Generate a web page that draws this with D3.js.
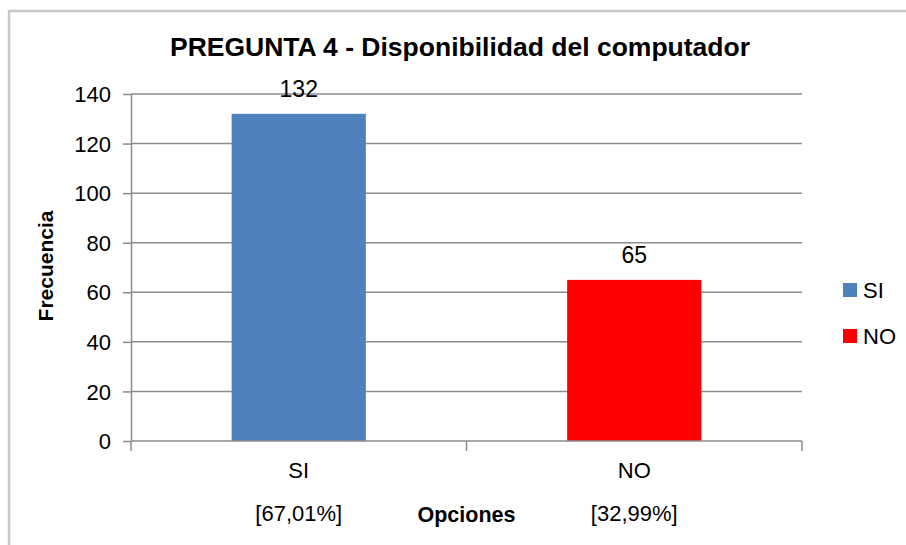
<!DOCTYPE html>
<html lang="es">
<head>
<meta charset="UTF-8"/>
<title>PREGUNTA 4 - Disponibilidad del computador</title>
<script src="https://d3js.org/d3.v7.min.js"></script>
<style>
    body { margin: 0; background: #fff; }
    text { font-family: "Liberation Sans", Arial, sans-serif; fill: #000; }
    .grid line { stroke: #8c8c8c; stroke-width: 1.5px; }
    .axis path, .axis line { stroke: #8c8c8c; stroke-width: 1.5px; fill: none; }
</style>
</head>
<body>
<svg width="906" height="545"></svg>
<script>
    // datos
    const categorias = ["SI", "NO"];
    const porcentajes = ["[67,01%]", "[32,99%]"];
    const frecuencias = [132, 65];
    const colores = ["#4f81bd", "#ff0000"];
    const ticksY = [0, 20, 40, 60, 80, 100, 120, 140];

    const svg = d3.select("svg");

    // marco
    svg.append("path")
        .attr("d", "M9,545V11H906")
        .attr("fill", "none")
        .attr("stroke", "#c8c8c8")
        .attr("stroke-width", 2.5);

    const margin = {left: 131, right: 802, top: 94, bottom: 441};

    const x = d3.scaleBand()
        .domain(categorias)
        .range([margin.left, margin.right])
        .paddingInner(0)
        .paddingOuter(0);

    const y = d3.scaleLinear()
        .domain([0, 140])
        .range([margin.bottom, margin.top]);

    // lineas de cuadricula
    svg.append("g").attr("class", "grid")
        .selectAll("line")
        .data(ticksY.filter(d => d > 0))
        .enter().append("line")
        .attr("x1", margin.left).attr("x2", margin.right)
        .attr("y1", d => y(d)).attr("y2", d => y(d));

    // barras
    const bw = x.bandwidth() * 0.4;
    svg.selectAll(".bar")
        .data(frecuencias)
        .enter().append("rect")
        .attr("class", "bar")
        .attr("x", (d, i) => x(categorias[i]) + (x.bandwidth() - bw) / 2)
        .attr("width", bw)
        .attr("y", d => y(d))
        .attr("height", d => y(0) - y(d))
        .attr("fill", (d, i) => colores[i]);

    // etiquetas de valores
    svg.selectAll(".val")
        .data(frecuencias)
        .enter().append("text")
        .attr("x", (d, i) => x(categorias[i]) + x.bandwidth() / 2)
        .attr("y", d => y(d) - 17)
        .attr("text-anchor", "middle")
        .attr("font-size", 23)
        .text(d => d);

    // eje Y
    const yAxis = svg.append("g").attr("class", "axis")
        .attr("transform", "translate(" + margin.left + ",0)")
        .call(d3.axisLeft(y).tickValues(ticksY).tickSize(8).tickSizeOuter(0));
    yAxis.selectAll("text")
        .attr("font-size", 22)
        .attr("x", -20)
        .attr("dy", "0.35em")
        .style("font-family", "Liberation Sans, Arial, sans-serif")
        .attr("fill", "#000");

    // eje X
    const xAxis = svg.append("g").attr("class", "axis")
        .attr("transform", "translate(0," + margin.bottom + ")");
    xAxis.append("line")
        .attr("x1", margin.left).attr("x2", margin.right);
    xAxis.selectAll(".tk")
        .data([margin.left].concat(categorias.map(c => x(c) + x.bandwidth())))
        .enter().append("line")
        .attr("x1", d => d).attr("x2", d => d)
        .attr("y1", 0).attr("y2", 10);

    svg.selectAll(".cat")
        .data(categorias)
        .enter().append("text")
        .attr("x", d => x(d) + x.bandwidth() / 2)
        .attr("y", 478)
        .attr("text-anchor", "middle")
        .attr("font-size", 22)
        .text(d => d);

    svg.selectAll(".pct")
        .data(porcentajes)
        .enter().append("text")
        .attr("x", (d, i) => x(categorias[i]) + x.bandwidth() / 2)
        .attr("y", 521)
        .attr("text-anchor", "middle")
        .attr("font-size", 22)
        .text(d => d);

    // titulos
    svg.append("text")
        .attr("x", 460).attr("y", 56)
        .attr("text-anchor", "middle")
        .attr("font-size", 26.5)
        .attr("font-weight", "bold")
        .text("PREGUNTA 4 - Disponibilidad del computador");

    svg.append("text")
        .attr("x", x("NO"))
        .attr("y", 522)
        .attr("text-anchor", "middle")
        .attr("font-size", 21.5)
        .attr("font-weight", "bold")
        .text("Opciones");

    svg.append("text")
        .attr("transform", "translate(53,266) rotate(-90)")
        .attr("text-anchor", "middle")
        .attr("font-size", 21)
        .attr("font-weight", "bold")
        .text("Frecuencia");

    // leyenda
    const ley = svg.selectAll(".ley")
        .data(categorias)
        .enter().append("g")
        .attr("transform", (d, i) => "translate(843," + (283 + i * 46) + ")");
    ley.append("rect")
        .attr("width", 14).attr("height", 14)
        .attr("fill", (d, i) => colores[i]);
    ley.append("text")
        .attr("x", 20).attr("y", 7)
        .attr("dy", "0.36em")
        .attr("font-size", 22)
        .text(d => d);
</script>
</body>
</html>
